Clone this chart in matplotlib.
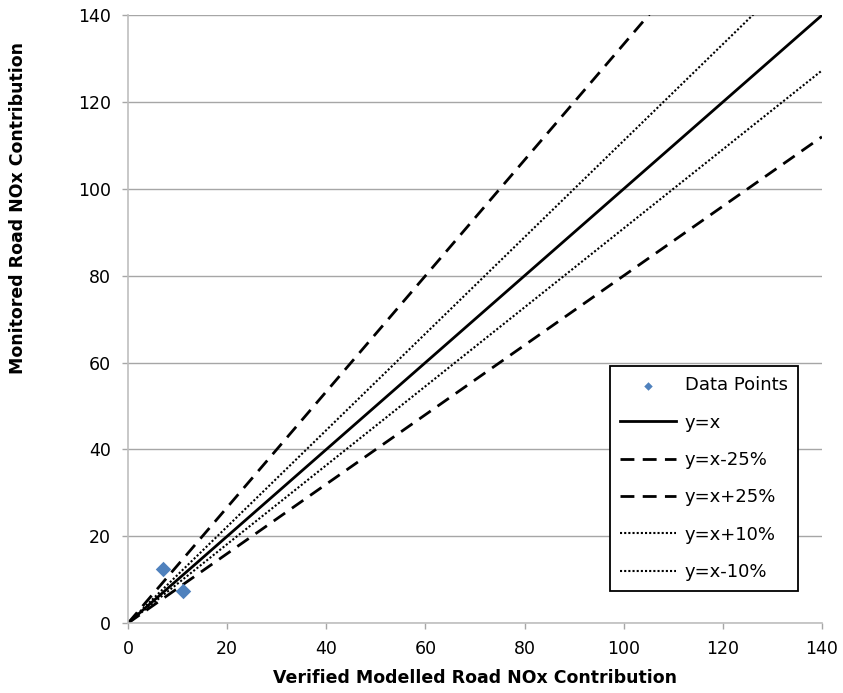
import matplotlib
matplotlib.use("Agg")
import matplotlib.pyplot as plt
import numpy as np

plt.rcParams['font.family'] = ['DejaVu Sans']

data_x = [7.0, 11.0]
data_y = [12.4, 7.4]
line_x = [0, 140]
factors = {"y=x": 1.0, "y=x-25%": 1/0.75, "y=x+25%": 1/1.25, "y=x+10%": 1/0.9, "y=x-10%": 1/1.1}
styles = {"y=x": dict(ls='-', lw=2.0),
          "y=x-25%": dict(ls=(0, (5, 3)), lw=2.0),
          "y=x+25%": dict(ls=(0, (5, 3)), lw=2.0),
          "y=x+10%": dict(ls=(0, (1, 1)), lw=1.5),
          "y=x-10%": dict(ls=(0, (1, 1)), lw=1.5)}
xticks = list(range(0, 141, 20))
yticks = list(range(0, 141, 20))

fig = plt.figure(figsize=(8.43, 6.93), dpi=100)
ax = fig.add_axes([0.152, 0.101, 0.823, 0.877])

ax.scatter(data_x, data_y, marker='D', s=62, color='#4f81bd', linewidths=0,
           zorder=5, label='Data Points', clip_on=False)
lx = np.array(line_x, dtype=float)
for name, f in factors.items():
    ax.plot(lx, lx * f, color='black', label=name, **styles[name])

ax.set_xlim(0, 140)
ax.set_ylim(0, 140)
ax.set_xticks(xticks)
ax.set_yticks(yticks)
ax.grid(axis='y', color='#a6a6a6', lw=1.0)
ax.set_axisbelow(True)
for s in ['top', 'right']:
    ax.spines[s].set_visible(False)
for s in ['left', 'bottom']:
    ax.spines[s].set_color('#bfbfbf')
    ax.spines[s].set_linewidth(1.2)
ax.tick_params(axis='both', colors='#a6a6a6', labelcolor='black', labelsize=12.5,
               length=4.5, width=1, pad=8)
ax.set_xlabel('Verified Modelled Road NOx Contribution', fontsize=12.5, fontweight='bold', labelpad=8)
ax.set_ylabel('Monitored Road NOx Contribution', fontsize=12.5, fontweight='bold')
ax.yaxis.set_label_coords(-0.1455, 0.683)

leg = ax.legend(loc='lower right', bbox_to_anchor=(0.965, 0.053), borderaxespad=0,
                fontsize=13, frameon=True, fancybox=False, edgecolor='black',
                handlelength=3.1, labelspacing=1.07, borderpad=0.55, handletextpad=0.5,
                markerscale=0.55, framealpha=1)
leg.get_frame().set_linewidth(1.3)

fig.savefig('out.png', dpi=100)
